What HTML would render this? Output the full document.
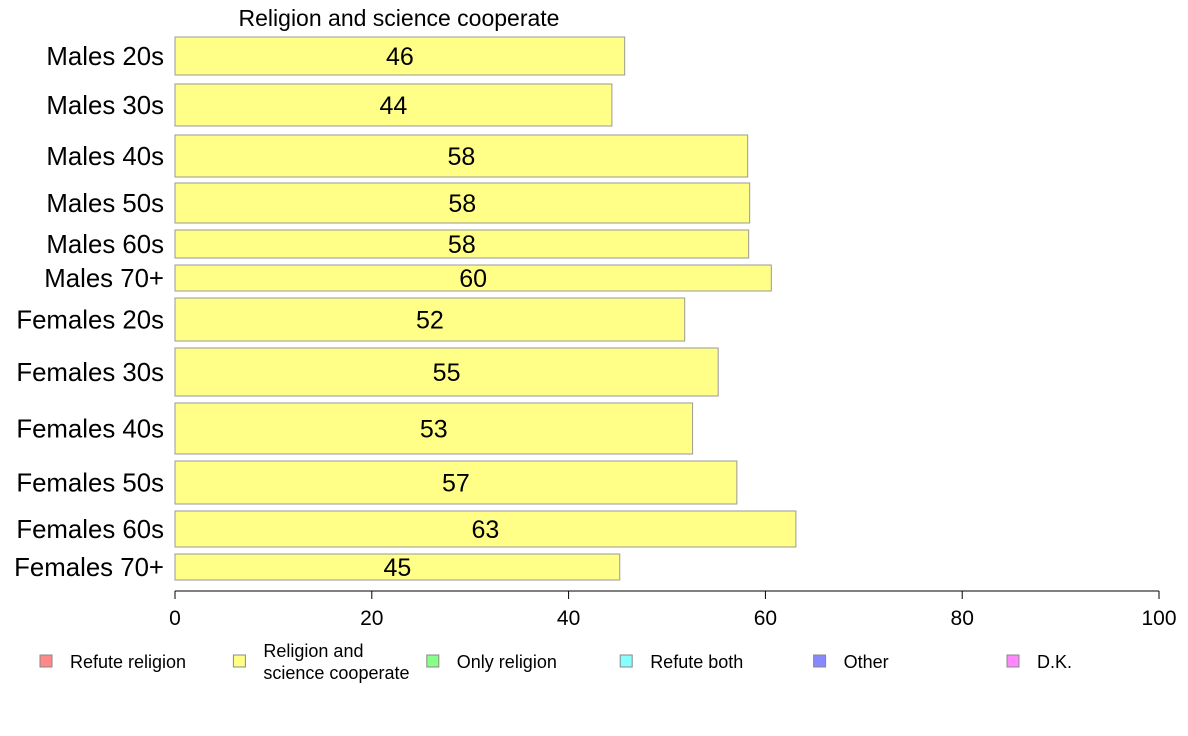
<!DOCTYPE html>
<html><head><meta charset="utf-8"><style>
body{margin:0;background:#fff;}
svg{display:block;font-family:"Liberation Sans",Arial,sans-serif;}
</style></head><body>
<svg id="chart" width="1188" height="736">
<text x="399" y="26" font-size="23" text-anchor="middle">Religion and science cooperate</text>
<g id="bars"></g>
<g id="axis"></g>
<g id="legend"></g>
</svg>
<script>
const categories=["Males 20s","Males 30s","Males 40s","Males 50s","Males 60s","Males 70+","Females 20s","Females 30s","Females 40s","Females 50s","Females 60s","Females 70+"];
const values=[45.7,44.4,58.2,58.4,58.3,60.6,51.8,55.2,52.6,57.1,63.1,45.2];
const labels=["46","44","58","58","58","60","52","55","53","57","63","45"];
const bandTops=[37,84,135,183,230,265,298,348,403,461,511,554];
const bandBottoms=[75,126,177,223,258,291,341,396,454,504,547,580];
const ticks=[0,20,40,60,80,100];
const legendNames=["Refute religion","Religion and|science cooperate","Only religion","Refute both","Other","D.K."];
const legendColors=["#ff8888","#ffff88","#88ff88","#88ffff","#8888ff","#ff88ff"];
const NS="http://www.w3.org/2000/svg";
const x=v=>175+v*9.84;
function mk(t,a,p){const e=document.createElementNS(NS,t);for(const k in a)e.setAttribute(k,a[k]);p.appendChild(e);return e;}
const bars=document.getElementById('bars');
categories.forEach((c,i)=>{
 const y0=bandTops[i],y1=bandBottoms[i],ym=(y0+y1)/2;
 const r=mk('rect',{x:x(0),y:y0,width:x(values[i])-x(0),height:y1-y0,fill:'#ffff88',stroke:'#999','stroke-width':1},bars);
 
 
 const t=mk('text',{x:(x(0)+x(values[i]))/2,y:ym+9,'font-size':25,'text-anchor':'middle'},bars);
 t.textContent=labels[i];
 
 
 const l=mk('text',{x:164,y:ym+9,'font-size':25.8,'text-anchor':'end'},bars);
 l.textContent=c;
 
 
});
const ax=document.getElementById('axis');
mk('line',{x1:x(0),x2:x(100),y1:591,y2:591,stroke:'#000'},ax);
ticks.forEach(v=>{
 mk('line',{x1:x(v),x2:x(v),y1:591,y2:599,stroke:'#000'},ax);
 const t=mk('text',{x:x(v),y:625,'font-size':21,'text-anchor':'middle'},ax);
 t.textContent=v;
 
 
});
const lg=document.getElementById('legend');
legendNames.forEach((n,i)=>{
 const lx=40+i*193.4;
 const r=mk('rect',{x:lx,y:655,width:12,height:12,fill:legendColors[i],stroke:'#888'},lg);
 
 
 const parts=n.split('|');
 parts.forEach((p,j)=>{
  const t=mk('text',{x:lx+30,y:parts.length>1?657+j*22:668,'font-size':18},lg);
  t.textContent=p;
  
  
 });
});
</script>
</body></html>
